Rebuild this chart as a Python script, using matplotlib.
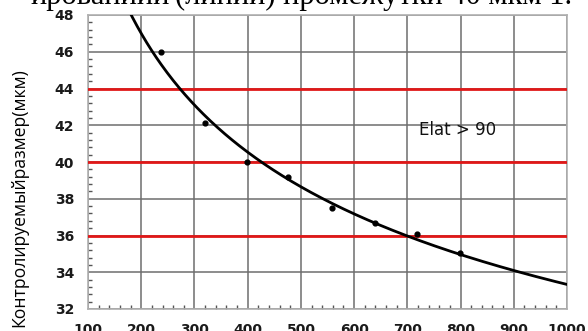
import numpy as np
import matplotlib.pyplot as plt
from matplotlib.ticker import MultipleLocator

# measured points (x, controlled size in um)
xPts = [237, 320, 399, 476, 559, 639, 718, 799]
yPts = [46.0, 42.1, 40.0, 39.2, 37.5, 36.7, 36.1, 35.05]

# red reference lines
refLines = [36, 40, 44]

xTicks = [100, 200, 300, 400, 500, 600, 700, 800, 900, 1000]
yTicks = [32, 34, 36, 38, 40, 42, 44, 46, 48]

yLabel = 'Контролируемыйразмер(мкм)'
note = 'Elat > 90'
topText1 = 'ированиии'
topText2 = '(линии) промежутки 40 мкм 1.'

fig = plt.figure(figsize=(5.88, 3.31), dpi=100)
ax = fig.add_axes([88/588, 22/331, (567-88)/588, (309-15)/331])

ax.set_xlim(100, 1000)
ax.set_ylim(32, 48)
ax.set_xticks(xTicks)
ax.set_yticks(yTicks)
ax.xaxis.set_minor_locator(MultipleLocator(20))
ax.yaxis.set_minor_locator(MultipleLocator(0.4))

ax.grid(True, which='major', color='#6e6e6e', linewidth=1.3, alpha=0.85)
ax.tick_params(which='major', length=0, pad=10, labelsize=10, labelcolor='#1a1a1a')
ax.tick_params(which='minor', direction='in', length=3, width=1, color='#555555')
for lab in ax.get_xticklabels() + ax.get_yticklabels():
    lab.set_fontweight('bold')
for s in ax.spines.values():
    s.set_color('#b0b0b0')
    s.set_linewidth(1.2)

for r in refLines:
    ax.axhline(r, color='#e01818', linewidth=2, zorder=3)

# power trend line fitted on the measured points
b, lna = np.polyfit(np.log(xPts), np.log(yPts), 1)
xs = np.linspace(100, 1000, 400)
ax.plot(xs, np.exp(lna) * xs ** b, color='black', linewidth=2, zorder=4)
ax.scatter(xPts, yPts, s=12, color='black', zorder=5)

ax.text(722, 41.74, note, fontsize=12, va='center', ha='left', color='#111111')

fig.text(19/588, 1 - 198/331, yLabel, rotation=90, fontsize=12.7, ha='center', va='center',
         family=['Open Sans', 'DejaVu Sans'])

fig.text(170/588, 1 - 4/331, topText1, fontsize=22, ha='right', va='baseline',
         family=['Liberation Serif', 'DejaVu Serif'])
fig.text(175/588, 1 - 4/331, topText2, fontsize=22, ha='left', va='baseline',
         family=['Liberation Serif', 'DejaVu Serif'])

fig.savefig('out.png', dpi=100)
